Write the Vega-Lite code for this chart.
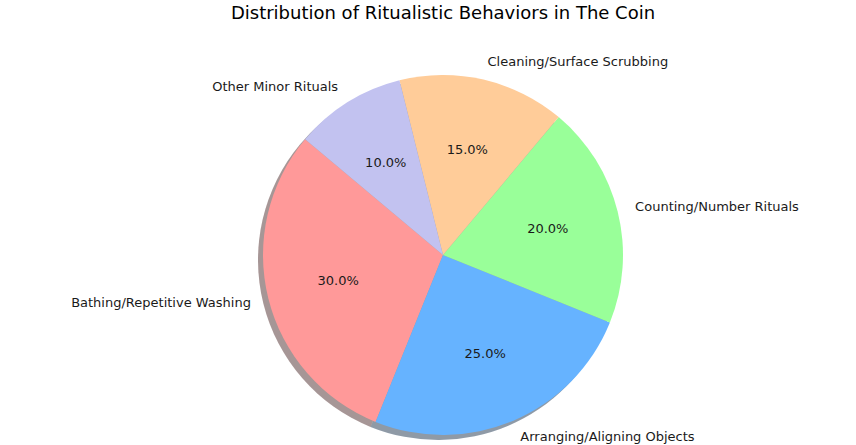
{
  "$schema": "https://vega.github.io/schema/vega-lite/v6.json",
  "width": 826,
  "height": 380,
  "autosize": {"type": "none"},
  "padding": {"left": 30, "top": 65, "right": 0, "bottom": 0},
  "background": "white",
  "config": {"view": {"stroke": null}, "font": "DejaVu Sans"},
  "title": {
    "text": "Distribution of Ritualistic Behaviors in The Coin",
    "font": "DejaVu Sans",
    "fontSize": 18,
    "fontWeight": "normal",
    "color": "#000000",
    "anchor": "middle",
    "offset": 33
  },
  "data": {
    "values": [
      {"category": "Bathing/Repetitive Washing", "value": 30, "pct": "30.0%"},
      {"category": "Arranging/Aligning Objects", "value": 25, "pct": "25.0%"},
      {"category": "Counting/Number Rituals", "value": 20, "pct": "20.0%"},
      {"category": "Cleaning/Surface Scrubbing", "value": 15, "pct": "15.0%"},
      {"category": "Other Minor Rituals", "value": 10, "pct": "10.0%"}
    ]
  },
  "encoding": {
    "theta": {"field": "value", "type": "quantitative", "stack": true,
      "scale": {"domain": [0, 100], "range": [-0.87266, 5.41052]}},
    "order": {"field": "value", "type": "quantitative", "sort": "ascending"}
  },
  "layer": [
    {
      "mark": {"type": "arc", "radius": 180, "xOffset": -5, "yOffset": 5, "opacity": 0.23, "stroke": null},
      "encoding": {
        "color": {"field": "category", "type": "nominal", "legend": null,
          "scale": {
            "domain": ["Bathing/Repetitive Washing", "Arranging/Aligning Objects", "Counting/Number Rituals", "Cleaning/Surface Scrubbing", "Other Minor Rituals"],
            "range": ["#ff9999", "#66b3ff", "#99ff99", "#ffcc99", "#c2c2f0"]
          }}
      }
    },
    {
      "mark": {"type": "arc", "radius": 180, "xOffset": -5, "yOffset": 5, "fill": "#000000", "opacity": 0.35, "stroke": null},
      "encoding": {}
    },
    {
      "mark": {"type": "arc", "radius": 180, "stroke": null},
      "encoding": {
        "color": {"field": "category", "type": "nominal", "legend": null}
      }
    },
    {
      "mark": {"type": "text", "radius": 108, "fontSize": 13, "font": "DejaVu Sans", "color": "#1a1a1a", "align": "center", "baseline": "middle"},
      "encoding": {"text": {"field": "pct", "type": "nominal"}}
    },
    {
      "mark": {"type": "text", "radius": 198, "fontSize": 13, "font": "DejaVu Sans", "color": "#1a1a1a", "baseline": "middle",
        "align": {"expr": "datum.category == 'Bathing/Repetitive Washing' || datum.category == 'Other Minor Rituals' ? 'right' : 'left'"}},
      "encoding": {"text": {"field": "category", "type": "nominal"}}
    }
  ]
}
